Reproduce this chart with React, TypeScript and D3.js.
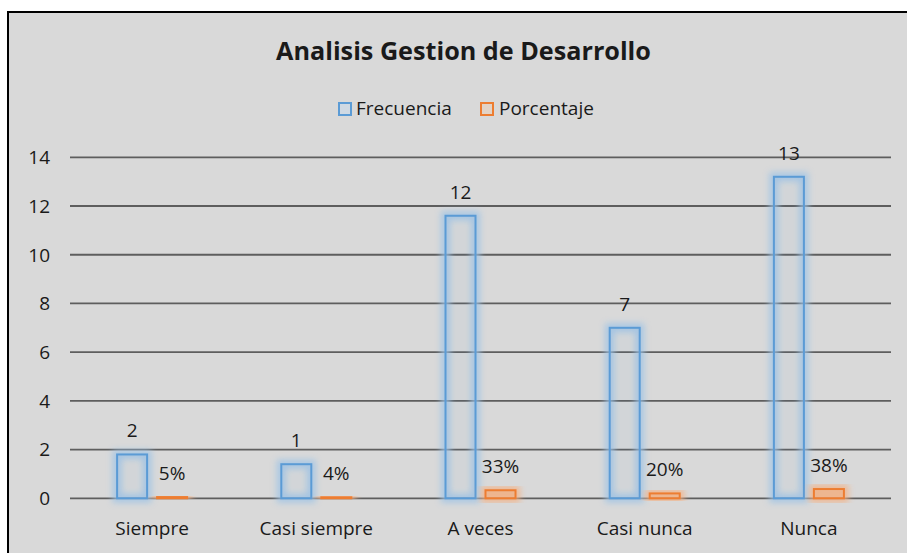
import React from "react";
import * as d3 from "d3";

const categories = ["Siempre", "Casi siempre", "A veces", "Casi nunca", "Nunca"];
const frecuencia = [1.8, 1.4, 11.6, 7.0, 13.2];
const frecuenciaLabels = ["2", "1", "12", "7", "13"];
const porcentaje = [0.05, 0.04, 0.33, 0.2, 0.38];
const porcentajeLabels = ["5%", "4%", "33%", "20%", "38%"];
const yTicks = [0, 2, 4, 6, 8, 10, 12, 14];
const seriesNames = ["Frecuencia", "Porcentaje"];

const W = 907;
const H = 553;
const FONT = "'Open Sans', Lato, sans-serif";
const BLUE = "#5B9BD5";
const ORANGE = "#ED7D31";
const TEXT = "#1a1a1a";

export default function App() {
  const x = d3.scaleBand<string>().domain(categories).range([70, 891]).padding(0);
  const y = d3.scaleLinear().domain([0, 14]).range([498.3, 157.3]);
  const bw = 30;
  const off = 20;

  const series = [
    { name: seriesNames[0], values: frecuencia, labels: frecuenciaLabels, color: BLUE, glow: "#9DC3E6", dx: -off },
    { name: seriesNames[1], values: porcentaje, labels: porcentajeLabels, color: ORANGE, glow: "#F4B183", dx: off },
  ];

  return (
    <svg width={W} height={H} style={{ position: "absolute", left: 0, top: 0, display: "block" }} fontFamily={FONT}>
      <defs>
        <filter id="glow" x="-50%" y="-50%" width="200%" height="200%">
          <feGaussianBlur stdDeviation="3" />
        </filter>
      </defs>
      <rect x={0} y={0} width={W} height={H} fill="#ffffff" />
      <rect x={8} y={12} width={W + 20} height={H + 20} fill="#D9D9D9" stroke="#000" strokeWidth={2} />

      <text x={463.5} y={59.5} textAnchor="middle" fontSize={25.2} fontWeight={700} fill={TEXT}>
        Analisis Gestion de Desarrollo
      </text>

      {/* legend */}
      <g>
        <rect x={339} y={103} width={12} height={12} fill="#cfd9e3" stroke={BLUE} strokeWidth={2} />
        <text x={356} y={115} fontSize={19} fill={TEXT}>{seriesNames[0]}</text>
        <rect x={481} y={103} width={12} height={12} fill="#e3d3c6" stroke={ORANGE} strokeWidth={2} />
        <text x={499} y={115} fontSize={19} fill={TEXT}>{seriesNames[1]}</text>
      </g>

      {/* gridlines */}
      {yTicks.map((t) => (
        <g key={t}>
          <line x1={70} x2={891} y1={y(t)} y2={y(t)} stroke="#5e5e5e" strokeWidth={1.8} />
          <text x={50} y={y(t)} dy="0.36em" textAnchor="end" fontSize={19} fill={TEXT}>
            {t}
          </text>
        </g>
      ))}

      {/* bars */}
      {series.map((s) =>
        categories.map((c, i) => {
          const cx = (x(c) as number) + x.bandwidth() / 2 + s.dx;
          const top = y(s.values[i]);
          const h = y(0) - top;
          return (
            <g key={s.name + c}>
              <rect x={cx - bw / 2} y={top} width={bw} height={h} fill="none" stroke={s.glow} strokeWidth={9} opacity={0.8} filter="url(#glow)" />
              <rect x={cx - bw / 2} y={top} width={bw} height={h} fill={s.color} fillOpacity={0.05} stroke={s.color} strokeWidth={2} />
              <text x={cx} y={top - 17} textAnchor="middle" fontSize={19} fill={TEXT}>
                {s.labels[i]}
              </text>
            </g>
          );
        })
      )}

      {/* category labels */}
      {categories.map((c) => (
        <text key={c} x={(x(c) as number) + x.bandwidth() / 2} y={535} textAnchor="middle" fontSize={19} fill={TEXT}>
          {c}
        </text>
      ))}
    </svg>
  );
}
